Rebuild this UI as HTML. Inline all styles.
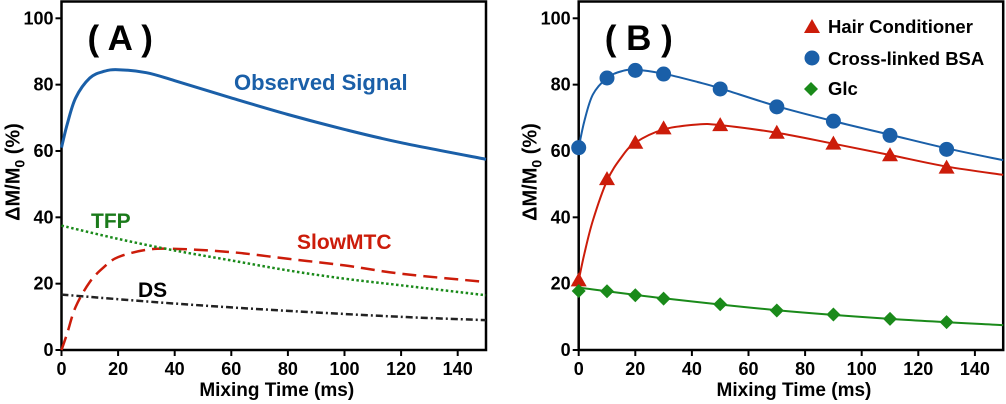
<!DOCTYPE html>
<html><head><meta charset="utf-8"><style>
html,body{margin:0;padding:0;background:#fff;}
svg{display:block;font-family:"Liberation Sans",Arial,sans-serif;font-weight:bold;}
</style></head><body>
<svg id="c" width="1006" height="404" viewBox="0 0 1006 404" xmlns="http://www.w3.org/2000/svg"></svg>
<script>
// Panel A data (model curves)
const aX = [0,2,5,10,15,20,30,40,60,80,100,120,150];
const aObserved = [61,68,76,82,84,84.5,83.6,81.2,76,71,66.5,62.5,57.5];
const aSlow = [0,5,13,20.5,25,28,30.2,30.5,29.5,27.5,25.5,23,20.5];
const aTfpX = [0,20,40,60,80,100,120,150];
const aTfp = [37.5,33.5,30,27,24,21.5,19.5,16.5];
const aDsX = [0,40,80,120,150];
const aDs = [16.7,14,11.8,10,9];
// Panel B data points
const bX = [0,10,20,30,50,70,90,110,130];
const bHair = [21,51.5,62.5,66.8,67.8,65.5,62.2,58.7,55];
const bBsa = [61,82,84.3,83.2,78.7,73.3,69,64.7,60.5];
const bGlc = [17.8,17.7,16.5,15.5,13.8,11.9,10.7,9.4,8.4];
// Panel B fit curves
const fitX = [0,2,5,10,15,20,30,42,50,70,90,110,130,150];
const fitHair = [21,29,39,51,58,62.5,66.5,68,67.8,65.5,62.2,58.8,55.3,52.8];
const fitBsa = [61,69,77,82,84,84.5,83.3,80.8,78.9,73.5,69,64.9,60.8,57.2];
const fitGlcX = [0,30,70,110,150];
const fitGlc = [18.8,15.6,12,9.4,7.5];
const xTicks = [0,20,40,60,80,100,120,140];
const yTicks = [0,20,40,60,80,100];

const svg = document.getElementById('c');
const NS = 'http://www.w3.org/2000/svg';
function mk(tag, attrs, parent){const e=document.createElementNS(NS,tag);for(const k in attrs)e.setAttribute(k,attrs[k]);(parent||svg).appendChild(e);return e;}
function smooth(pts){let d='M'+pts[0][0]+','+pts[0][1];for(let i=0;i<pts.length-1;i++){const p0=pts[i-1]||pts[i],p1=pts[i],p2=pts[i+1],p3=pts[i+2]||p2;const c1=[p1[0]+(p2[0]-p0[0])/6,p1[1]+(p2[1]-p0[1])/6],c2=[p2[0]-(p3[0]-p1[0])/6,p2[1]-(p3[1]-p1[1])/6];d+=' C'+c1[0]+','+c1[1]+' '+c2[0]+','+c2[1]+' '+p2[0]+','+p2[1];}return d;}

function panel(x0, name, letter){
  const X = v => x0 + v*2.83, Y = v => 350 - v*3.317;
  const g = mk('g',{});
  
  
  const fr = mk('rect',{x:x0,y:1.5,width:X(150)-x0,height:348.5,fill:'none',stroke:'#000','stroke-width':2.5},g);
  
  
  xTicks.forEach(t=>{
    mk('line',{x1:X(t),x2:X(t),y1:350,y2:356,stroke:'#000','stroke-width':2},g);
    const tx=mk('text',{x:X(t),y:375,'font-size':18,'text-anchor':'middle'},g);tx.textContent=t;
    
    
  });
  yTicks.forEach(t=>{
    mk('line',{x1:x0-6,x2:x0,y1:Y(t),y2:Y(t),stroke:'#000','stroke-width':2},g);
    const tx=mk('text',{x:x0-8,y:Y(t)+6,'font-size':18,'text-anchor':'end'},g);tx.textContent=t;
    
    
  });
  const xl=mk('text',{x:X(75)+3,y:396,'font-size':19,'text-anchor':'middle'},g);xl.textContent='Mixing Time (ms)';
  
  
  const yl=mk('text',{transform:'translate('+(x0-42)+',172) rotate(-90)','font-size':20,'text-anchor':'middle'},g);
  yl.innerHTML='ΔM/M<tspan font-size="14" dy="5">0</tspan><tspan dy="-5"> (%)</tspan>';
  
  
  const pl=mk('text',{x:x0+26,y:50,'font-size':35},g);pl.textContent='( '+letter+' )';
  
  
  return {g,X,Y};
}

// Panel A
const A = panel(61.5,'panel-a','A');
function lineA(xs,ys,color,dash,w,nm){const p=mk('path',{d:smooth(xs.map((x,i)=>[A.X(x),A.Y(ys[i])])),fill:'none',stroke:color,'stroke-width':w,'stroke-dasharray':dash},A.g);
  
  }
lineA(aX,aObserved,'#1a5fa8','none',3,'observed-signal-line');
lineA(aX,aSlow,'#cc1c0a','14 7',2.5,'slowmtc-line');
lineA(aTfpX,aTfp,'#1a8a1a','2.5 2.5',2.5,'tfp-line');
lineA(aDsX,aDs,'#222','7 3 2 3',2.5,'ds-line');
function lab(g,x,y,t,c,nm,fs){const e=mk('text',{x,y,'font-size':fs||21,fill:c},g);e.textContent=t;
  
  }
lab(A.g,234,90,'Observed Signal','#1a5fa8','observed-signal-label',22);
lab(A.g,91,228,'TFP','#1a7a1a','tfp-label');
lab(A.g,297,249,'SlowMTC','#cc1c0a','slowmtc-label');
lab(A.g,138,297,'DS','#000','ds-label');

// Panel B
const B = panel(578.7,'panel-b','B');
function fit(xs,ys,c,nm){const p=mk('path',{d:smooth(xs.map((x,i)=>[B.X(x),B.Y(ys[i])])),fill:'none',stroke:c,'stroke-width':2},B.g);
  
  }
fit(fitX,fitBsa,'#1a5fa8','bsa-fit-line');
fit(fitX,fitHair,'#cc1c0a','hair-fit-line');
fit(fitGlcX,fitGlc,'#1a8a1a','glc-fit-line');
function tri(cx,cy,g){return mk('polygon',{points:(cx)+','+(cy-8)+' '+(cx-8)+','+(cy+6)+' '+(cx+8)+','+(cy+6),fill:'#cc1c0a'},g);}
function dia(cx,cy,g){return mk('polygon',{points:cx+','+(cy-7)+' '+(cx+7)+','+cy+' '+cx+','+(cy+7)+' '+(cx-7)+','+cy,fill:'#1a8a1a'},g);}
bX.forEach((x,i)=>{
  const c=mk('circle',{cx:B.X(x),cy:B.Y(bBsa[i]),r:7.5,fill:'#1a5fa8'},B.g);
  
  
  const t=tri(B.X(x),B.Y(bHair[i]),B.g);
  
  
  const d=dia(B.X(x),B.Y(bGlc[i]),B.g);
  
  
});
// legend
const lg=mk('g',{},B.g);


const l1=tri(812,27,lg);


const l2=mk('circle',{cx:812,cy:58,r:7.5,fill:'#1a5fa8'},lg);


const l3=dia(811,89,lg);


[['Hair Conditioner',33,'legend-entry-hair'],['Cross-linked BSA',65,'legend-entry-bsa'],['Glc',95,'legend-entry-glc']].forEach(e=>{
  const t=mk('text',{x:828,y:e[1],'font-size':18.5},lg);t.textContent=e[0];
  
  
});
</script>
</body></html>
